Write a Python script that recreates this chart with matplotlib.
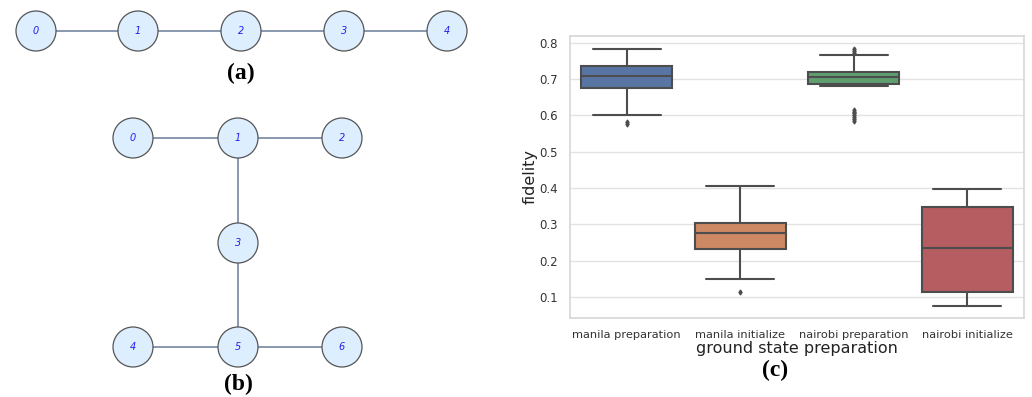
import numpy as np
import matplotlib.pyplot as plt
import seaborn as sns
from matplotlib.patches import Circle

sns.set_theme(style="whitegrid")

# graph layouts (pixel positions of the drawn qubit maps)
line_nodes = [0, 1, 2, 3, 4]
line_x = [36, 138, 241, 344, 447]
line_y = [31, 31, 31, 31, 31]
line_edges = [(0, 1), (1, 2), (2, 3), (3, 4)]

h_nodes = [0, 1, 2, 3, 4, 5, 6]
h_x = [133, 238, 342, 238, 133, 238, 342]
h_y = [138, 138, 138, 243, 347, 347, 347]
h_edges = [(0, 1), (1, 2), (1, 3), (3, 5), (4, 5), (5, 6)]

# box plot summary
categories = ["manila preparation", "manila initialize", "nairobi preparation", "nairobi initialize"]
whislo = [0.600, 0.150, 0.680, 0.076]
q1 = [0.676, 0.231, 0.686, 0.114]
med = [0.709, 0.276, 0.705, 0.235]
q3 = [0.736, 0.303, 0.718, 0.348]
whishi = [0.782, 0.406, 0.767, 0.397]
fliers = [
    [0.580, 0.576],
    [0.113],
    [0.782, 0.776, 0.772, 0.615, 0.610, 0.605, 0.600, 0.595, 0.590, 0.585],
    [],
]
box_colors = ["#5975a4", "#cc8963", "#5f9e6e", "#b55d60"]

fig = plt.figure(figsize=(10.32, 3.97), dpi=100)

# ---- left panel: coupling maps drawn in pixel coordinates
axg = fig.add_axes([0, 0, 516 / 1032, 1])
axg.set_xlim(0, 516)
axg.set_ylim(397, 0)
axg.axis("off")

def draw_graph(ax, nodes, xs, ys, edges):
    for a, b in edges:
        ax.plot([xs[a], xs[b]], [ys[a], ys[b]], color="#7f8fa9", lw=1.3, zorder=1)
    for n, x, y in zip(nodes, xs, ys):
        ax.add_patch(Circle((x, y), 20, facecolor="#ddeeff", edgecolor="#555555", lw=0.9, zorder=2))
        ax.text(x, y, str(n), color="#2222ee", fontsize=7, style="italic",
                ha="center", va="center", zorder=3)

draw_graph(axg, line_nodes, line_x, line_y, line_edges)
draw_graph(axg, h_nodes, h_x, h_y, h_edges)

axg.text(241, 73, "(a)", fontsize=17, fontweight="bold", family="Liberation Serif",
         ha="center", va="center", color="black")
axg.text(238, 384, "(b)", fontsize=17, fontweight="bold", family="Liberation Serif",
         ha="center", va="center", color="black")

# ---- right panel: box plot
ax = fig.add_axes([570 / 1032, 1 - 318 / 397, 454 / 1032, (318 - 36) / 397])
stats = []
for i in range(len(categories)):
    stats.append(dict(whislo=whislo[i], q1=q1[i], med=med[i], q3=q3[i],
                      whishi=whishi[i], fliers=fliers[i]))
line_c = "#4d4d4d"
bp = ax.bxp(stats, positions=range(len(categories)), widths=0.8, patch_artist=True,
            showfliers=True,
            boxprops=dict(edgecolor=line_c, lw=1.5),
            medianprops=dict(color=line_c, lw=1.5),
            whiskerprops=dict(color=line_c, lw=1.5),
            capprops=dict(color=line_c, lw=1.5),
            flierprops=dict(marker="d", markersize=2.5, markerfacecolor=line_c,
                            markeredgecolor=line_c))
for patch, c in zip(bp["boxes"], box_colors):
    patch.set_facecolor(c)
for cap in bp["caps"]:
    x0, x1 = cap.get_xdata()
    m = (x0 + x1) / 2
    cap.set_xdata([m - 0.3, m + 0.3])

ax.set_xlim(-0.5, 3.5)
ax.set_ylim(0.042, 0.818)
ax.set_yticks([0.1, 0.2, 0.3, 0.4, 0.5, 0.6, 0.7, 0.8])
ax.set_xticks(range(len(categories)))
ax.set_xticklabels(categories, fontsize=8.2, color="#333333")
ax.tick_params(axis="y", labelsize=8.5, labelcolor="#333333", pad=3)
ax.tick_params(axis="x", pad=3)
ax.set_xlabel("ground state preparation", fontsize=11.5, color="#222222", labelpad=0)
ax.set_ylabel("fidelity", fontsize=11.5, color="#222222", labelpad=1)
ax.grid(axis="x", visible=False)
ax.grid(axis="y", color="#e2e2e2", lw=1)
for s in ax.spines.values():
    s.set_color("#d8d8d8")

fig.text(775 / 1032, 1 - 370 / 397, "(c)", fontsize=17, fontweight="bold",
         family="Liberation Serif", ha="center", va="center", color="black")

fig.savefig("out.png", dpi=100)
